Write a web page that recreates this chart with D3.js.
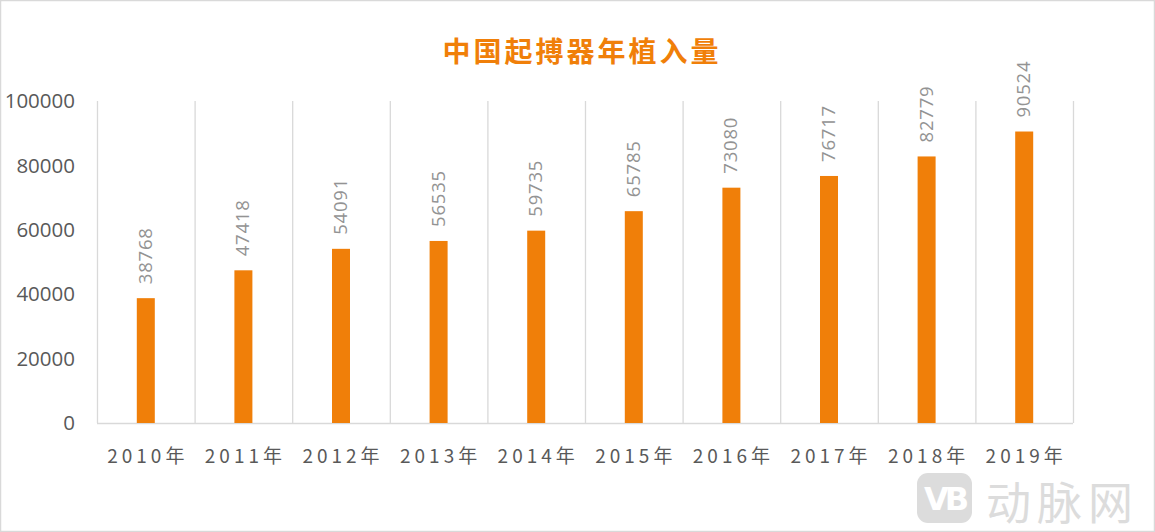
<!DOCTYPE html>
<html>
<head>
<meta charset="utf-8">
<script src="https://cdn.jsdelivr.net/npm/d3@7"></script>
<style>
  html, body { margin: 0; padding: 0; background: #fff; }
  svg { display: block; font-family: "Noto Sans CJK SC", "Noto Sans", sans-serif; }
</style>
</head>
<body>
<div id="chart"></div>
<script>
// 中国起搏器年植入量 柱状图
const years = ["2010年", "2011年", "2012年", "2013年", "2014年", "2015年", "2016年", "2017年", "2018年", "2019年"];
const implants = [38768, 47418, 54091, 56535, 59735, 65785, 73080, 76717, 82779, 90524];
const yTicks = [0, 20000, 40000, 60000, 80000, 100000];

const W = 1155, H = 532;
const margin = { top: 101, right: 82, bottom: 109, left: 97 };
const iw = W - margin.left - margin.right, ih = H - margin.top - margin.bottom;
const orange = "#f07f09", grid = "#d9d9d9", labelColor = "#595959";

const svg = d3.select("#chart").append("svg").attr("width", W).attr("height", H);

// 外框
svg.append("rect").attr("x", 0.5).attr("y", 0.5).attr("width", W - 1).attr("height", H - 1)
  .attr("fill", "#fff").attr("stroke", grid).attr("stroke-width", 1.5);

svg.append("text").attr("x", 582).attr("y", 62).attr("text-anchor", "middle")
  .attr("fill", orange).attr("font-size", 28).attr("font-weight", "bold")
  .attr("letter-spacing", 3).text("中国起搏器年植入量");

const g = svg.append("g").attr("transform", `translate(${margin.left},${margin.top})`);

const x = d3.scaleBand().domain(years).range([0, iw]);
const y = d3.scaleLinear().domain([0, 100000]).range([ih, 0]);

// 分类边界竖线
const bounds = d3.range(years.length + 1).map(i => i * x.step());
g.selectAll("line.vgrid").data(bounds).join("line").attr("class", "vgrid")
  .attr("x1", d => d + 0.5).attr("x2", d => d + 0.5).attr("y1", 0).attr("y2", ih)
  .attr("stroke", grid).attr("stroke-width", 1.3);
g.append("line").attr("x1", 0).attr("x2", iw).attr("y1", ih + 0.5).attr("y2", ih + 0.5)
  .attr("stroke", grid).attr("stroke-width", 1.3);

// y 轴标签
g.selectAll("text.ytick").data(yTicks).join("text").attr("class", "ytick")
  .attr("x", -22).attr("y", d => y(d)).attr("dy", "0.35em").attr("text-anchor", "end")
  .attr("fill", labelColor).attr("font-size", 20.5).attr("font-family", "'Open Sans', 'Noto Sans', sans-serif")
  .text(d => d);

// x 轴标签
g.selectAll("text.xtick").data(years).join("text").attr("class", "xtick")
  .attr("x", d => x(d) + x.bandwidth() / 2 + 2).attr("y", ih + 40).attr("text-anchor", "middle")
  .attr("fill", labelColor).attr("font-size", 19).attr("letter-spacing", 4)
  .text(d => d);

// 柱
const barW = 18;
g.selectAll("rect.bar").data(implants).join("rect").attr("class", "bar")
  .attr("x", (d, i) => x(years[i]) + x.bandwidth() / 2 - barW / 2)
  .attr("y", d => y(d)).attr("width", barW).attr("height", d => ih - y(d))
  .attr("fill", orange);

// 数值标签 (竖排)
g.selectAll("text.val").data(implants).join("text").attr("class", "val")
  .attr("transform", (d, i) => `translate(${x(years[i]) + x.bandwidth() / 2 + 6},${y(d) - 14}) rotate(-90)`)
  .attr("fill", "#939393").attr("font-size", 18.5).attr("letter-spacing", 0.8)
  .attr("font-family", "'Open Sans', 'Noto Sans', sans-serif")
  .text(d => d);

// 水印
const wm = svg.append("g").attr("fill", "#dcdcdc");
wm.append("rect").attr("x", 917).attr("y", 473).attr("width", 55).attr("height", 50).attr("rx", 11);
wm.append("text").attr("x", 944.5).attr("y", 510).attr("text-anchor", "middle")
  .attr("fill", "#fff").attr("font-size", 32).attr("font-weight", "bold")
  .attr("font-family", "'DejaVu Sans', sans-serif").attr("letter-spacing", -4).text("VB");
wm.append("text").attr("x", 986).attr("y", 520).attr("font-size", 45).attr("letter-spacing", 6)
  .text("动脉网");
</script>
</body>
</html>
